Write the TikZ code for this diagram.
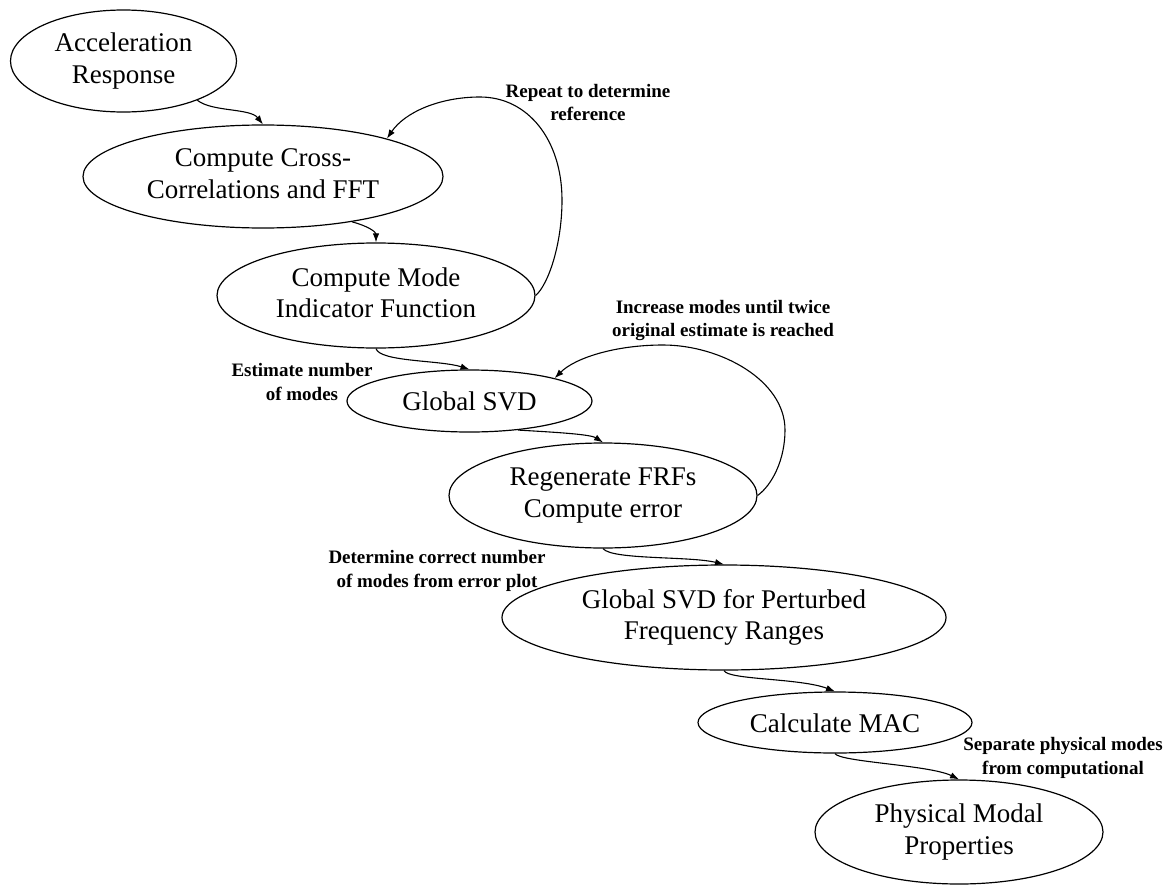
\documentclass[tikz,border=0pt]{standalone}
\usepackage{fontspec}
\setmainfont{Liberation Serif}
\usetikzlibrary{arrows.meta,shapes.geometric}
\tikzset{
  stage/.style={draw, ellipse, line width=1.2pt, inner sep=0pt, align=center,
    font=\fontsize{27}{31.5}\selectfont,
    execute at begin node={\rule{0pt}{25pt}},
    execute at end node={\rule[-6pt]{0pt}{6pt}}},
  flow/.style={line width=1.1pt, -{Latex[length=9pt,width=6.5pt]}},
  note/.style={align=center, inner sep=0pt, anchor=base,
    font=\fontsize{19}{23.5}\selectfont\bfseries},
}
\begin{document}
\begin{tikzpicture}[x=1pt,y=-1pt]
\useasboundingbox (0,0) rectangle (1173,886);

% processing stages
\node[stage, minimum width=226pt, minimum height=102pt] (acc) at (123.5,61) {Acceleration\\Response};
\node[stage, minimum width=360pt, minimum height=103pt] (xcorr) at (263,176.5) {Compute Cross-\\Correlations and FFT};
\node[stage, minimum width=318pt, minimum height=105pt] (cmif) at (376,295.5) {Compute Mode\\Indicator Function};
\node[stage, minimum width=245pt, minimum height=62pt] (gsvd) at (469.5,401) {Global SVD};
\node[stage, minimum width=308pt, minimum height=105pt] (regen) at (603,495.5) {Regenerate FRFs\\Compute error};
\node[stage, minimum width=444pt, minimum height=105pt] (pert) at (724,617.5) {Global SVD for Perturbed\\Frequency Ranges};
\node[stage, minimum width=274pt, minimum height=61pt] (mac) at (835,722.5) {Calculate MAC};
\node[stage, minimum width=288pt, minimum height=104pt] (phys) at (959,832) {Physical Modal\\Properties};

% annotations (placed at the baseline of their last line)
\node[note] (nrep) at (588,120.5) {Repeat to determine\\reference};
\node[note] (ninc) at (723,336.5) {Increase modes until twice\\original estimate is reached};
\node[note] (nest) at (302,400) {Estimate number\\of modes};
\node[note] (ndet) at (437,587) {Determine correct number\\of modes from error plot};
\node[note] (nsep) at (1063,774) {Separate physical modes\\from computational};

% main flow
\draw[flow] (acc.-28) .. controls (212,112) and (250,108) .. (xcorr.north);
\draw[flow] (xcorr.-27) .. controls (368,226) and (376,232) .. (cmif.north);
\draw[flow] (cmif.south) .. controls (380,362) and (440,360) .. (gsvd.north);
\draw[flow] (gsvd.-31) .. controls (550,432) and (590,434) .. (regen.north);
\draw[flow] (regen.south) .. controls (612,560) and (690,556) .. (pert.north);
\draw[flow] (pert.south) .. controls (728,680) and (800,678) .. (mac.north);
\draw[flow] (mac.south) .. controls (840,762) and (930,765) .. (phys.north);

% feedback loops
\draw[flow] (cmif.east) .. controls (548,285) and (562,245) .. (562,200)
  .. controls (562,140) and (528,97) .. (480,97)
  .. controls (440,97) and (405,112) .. (xcorr.17);
\draw[flow] (regen.east) .. controls (772,485) and (785,460) .. (785,430)
  .. controls (785,380) and (720,345) .. (663,345)
  .. controls (615,345) and (575,358) .. (gsvd.15);
\end{tikzpicture}
\end{document}
